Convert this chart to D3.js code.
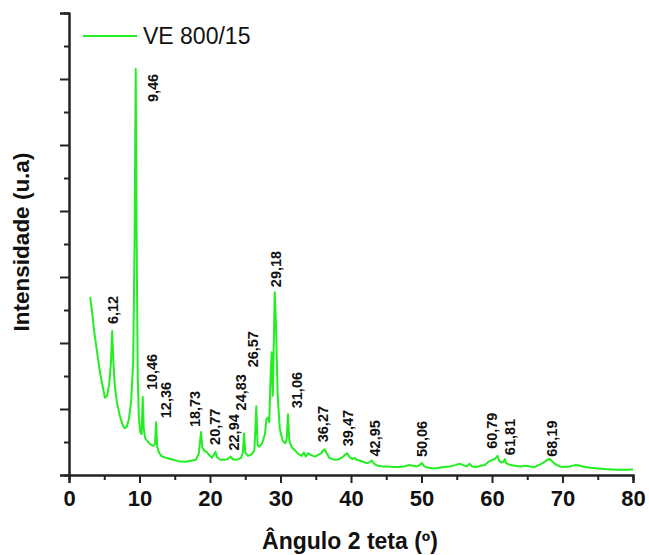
<!DOCTYPE html>
<html>
<head>
<meta charset="utf-8">
<script src="https://cdn.jsdelivr.net/npm/d3@7"></script>
<style>
	body { margin: 0; background: #fff; }
	svg { display: block; font-family: "Liberation Sans", Arial, sans-serif; }
</style>
</head>
<body>
<div id="chart"></div>
<script>

// 2 theta (degrees) and intensity (a.u.)
var angles = [
	3.0, 3.3, 3.6, 4.0, 4.4, 4.8, 5.1, 5.4, 5.7, 5.95, 6.12, 6.3, 6.5, 6.8, 7.2, 7.6, 7.9, 8.2, 8.5, 8.8,
	9.1, 9.3, 9.46, 9.6, 9.75, 9.9, 10.1, 10.3, 10.46, 10.6, 10.8, 11.2, 11.6, 12.0, 12.2, 12.36, 12.5, 12.8, 13.2, 13.8,
	14.5, 15.5, 16.5, 17.5, 18.0, 18.4, 18.73, 18.9, 19.2, 19.5, 19.9, 20.3, 20.77, 21.0, 21.5, 22.0, 22.5, 22.94, 23.2, 23.8,
	24.4, 24.65, 24.83, 25.0, 25.4, 25.9, 26.3, 26.57, 26.75, 27.0, 27.4, 27.8, 28.0, 28.2, 28.4, 28.6, 28.75, 28.9, 29.0, 29.18,
	29.35, 29.6, 29.9, 30.3, 30.7, 30.9, 31.06, 31.25, 31.6, 32.0, 32.5, 33.0, 33.3, 33.6, 33.9, 34.2, 34.6, 35.0, 35.4, 35.8,
	36.0, 36.27, 36.5, 36.9, 37.4, 37.8, 38.3, 38.8, 39.2, 39.47, 39.8, 40.2, 40.5, 40.8, 41.2, 41.7, 42.2, 42.6, 42.95, 43.3,
	43.8, 44.5, 45.3, 46.0, 46.8, 47.5, 48.2, 48.8, 49.3, 49.7, 50.06, 50.4, 51.0, 51.8, 52.5, 53.3, 54.0, 54.8, 55.4, 55.9,
	56.4, 56.8, 57.2, 57.8, 58.4, 59.0, 59.5, 60.0, 60.4, 60.79, 61.0, 61.3, 61.6, 61.81, 62.0, 62.6, 63.3, 64.0, 64.7, 65.4,
	66.0, 66.6, 67.2, 67.7, 68.19, 68.6, 69.0, 69.6, 70.3, 71.0, 71.8, 72.4, 73.0, 74.0, 75.0, 76.0, 77.0, 78.0, 79.0, 80.0
];
var intensities = [
	2700, 2450, 2150, 1850, 1550, 1330, 1170, 1200, 1380, 1700, 2180, 1700, 1350, 1100, 900, 760, 710, 730, 850, 1100,
	1700, 3500, 6150, 3500, 1500, 900, 650, 620, 1180, 700, 560, 500, 460, 440, 470, 800, 430, 330, 280, 260,
	240, 210, 200, 220, 230, 320, 650, 420, 370, 350, 300, 260, 350, 270, 230, 230, 240, 280, 240, 230,
	260, 330, 630, 340, 290, 310, 370, 1040, 450, 430, 480, 620, 840, 870, 800, 1500, 1860, 1200, 1700, 2770,
	2300, 1200, 700, 520, 480, 560, 920, 520, 420, 380, 320, 290, 340, 280, 330, 310, 290, 280, 310, 330,
	370, 390, 340, 260, 240, 230, 240, 270, 310, 330, 270, 240, 260, 230, 220, 200, 180, 190, 220, 170,
	140, 130, 130, 120, 120, 130, 150, 140, 130, 150, 180, 130, 110, 100, 110, 120, 130, 150, 170, 150,
	130, 170, 130, 120, 140, 150, 200, 230, 240, 290, 220, 190, 200, 240, 180, 150, 140, 130, 140, 130,
	120, 150, 180, 220, 245, 200, 160, 130, 120, 130, 150, 145, 125, 110, 100, 90, 85, 80, 80, 85
];

var peakLabels = ["6,12", "9,46", "10,46", "12,36", "18,73", "20,77", "22,94", "24,83", "26,57", "29,18",
	"31,06", "36,27", "39,47", "42,95", "50,06", "60,79", "61,81", "68,19"];
var xTicks = [0, 10, 20, 30, 40, 50, 60, 70, 80];
var seriesName = "VE 800/15";

var width = 649;
var height = 555;
var margin = { top: 13, right: 16, bottom: 80, left: 69 };

var lineColor = "#22ee22";

// label offsets (px) so the texts sit like in the original
var labelNudge = {
	"6,12": [1, 0], "9,46": [17, 40], "10,46": [9, 0], "12,36": [10, 3], "18,73": [-6, 2],
	"20,77": [-1, 0], "22,94": [3, 1], "24,83": [-3, -16], "26,57": [-4, -32], "29,18": [1, 2],
	"31,06": [9, 1], "36,27": [-2, 0], "39,47": [1, 0], "42,95": [3, 3], "50,06": [0, 1],
	"60,79": [-6, 0], "61,81": [5, 3], "68,19": [2, 5]
};

var data = angles.map(function(a, i) { return { x: a, y: intensities[i] }; });

var svg = d3.select("#chart").append("svg")
	.attr("width", width)
	.attr("height", height);

var x = d3.scaleLinear().domain([0, 80]).range([margin.left, width - margin.right]);
var y = d3.scaleLinear().domain([0, 7000]).range([height - margin.bottom, margin.top]);

// curve
var line = d3.line()
	.x(function(d) { return x(d.x); })
	.y(function(d) { return y(d.y); });

svg.append("path")
	.datum(data)
	.attr("fill", "none")
	.attr("stroke", lineColor)
	.attr("stroke-width", 2)
	.attr("stroke-linejoin", "round")
	.attr("d", line);

// axes
var xAxis = d3.axisBottom(x).tickValues(xTicks).tickSize(8).tickPadding(7);
var xMinor = d3.axisBottom(x).tickValues(d3.range(5, 80, 10)).tickSize(5).tickFormat("");
var yAxis = d3.axisLeft(y).tickValues(d3.range(0, 7001, 1000)).tickSize(9).tickFormat("");
var yMinor = d3.axisLeft(y).tickValues(d3.range(500, 7000, 1000)).tickSize(5).tickFormat("");

var styleAxis = function(g) {
	g.select(".domain").attr("stroke", "#222").attr("stroke-width", 2);
	g.selectAll(".tick line").attr("stroke", "#222").attr("stroke-width", 2);
};

svg.append("g").attr("transform", "translate(0," + y(0) + ")").call(xMinor).call(styleAxis);
svg.append("g").attr("transform", "translate(" + x(0) + ",0)").call(yMinor).call(styleAxis);
svg.append("g").attr("transform", "translate(" + x(0) + ",0)").call(yAxis).call(styleAxis);
var gx = svg.append("g").attr("transform", "translate(0," + y(0) + ")").call(xAxis).call(styleAxis);
gx.selectAll(".tick text")
	.attr("fill", "#111")
	.style("font-size", "22px")
	.style("font-weight", "bold")
	.style("font-family", "'Liberation Sans', Arial, sans-serif");

// axis titles
svg.append("text")
	.attr("x", 350)
	.attr("y", 549)
	.attr("text-anchor", "middle")
	.style("font-size", "23px")
	.style("font-weight", "bold")
	.attr("fill", "#111")
	.text("Ângulo 2 teta (º)");

svg.append("text")
	.attr("transform", "translate(29," + 242 + ") rotate(-90)")
	.attr("text-anchor", "middle")
	.style("font-size", "22.5px")
	.style("font-weight", "bold")
	.attr("fill", "#111")
	.text("Intensidade (u.a)");

// peak labels, placed above the local maximum of the curve
peakLabels.forEach(function(lbl) {
	var a = +lbl.replace(",", ".");
	var near = data.filter(function(d) { return Math.abs(d.x - a) <= 0.3; });
	var top = d3.max(near, function(d) { return d.y; });
	var nudge = labelNudge[lbl] || [0, 0];
	var px = x(a) + nudge[0];
	var py = y(top) - 7 + nudge[1];
	svg.append("text")
		.attr("transform", "translate(" + px + "," + py + ") rotate(-90)")
		.attr("dy", "0.36em")
		.style("font-size", "14.5px")
		.style("font-weight", "bold")
		.attr("fill", "#111")
		.text(lbl);
});

// legend
var legend = svg.append("g");
legend.append("line")
	.attr("x1", 83).attr("x2", 137)
	.attr("y1", 36).attr("y2", 36)
	.attr("stroke", lineColor)
	.attr("stroke-width", 2);
legend.append("text")
	.attr("x", 143)
	.attr("y", 44)
	.style("font-size", "23px")
	.attr("fill", "#111")
	.text(seriesName);

</script>
</body>
</html>
